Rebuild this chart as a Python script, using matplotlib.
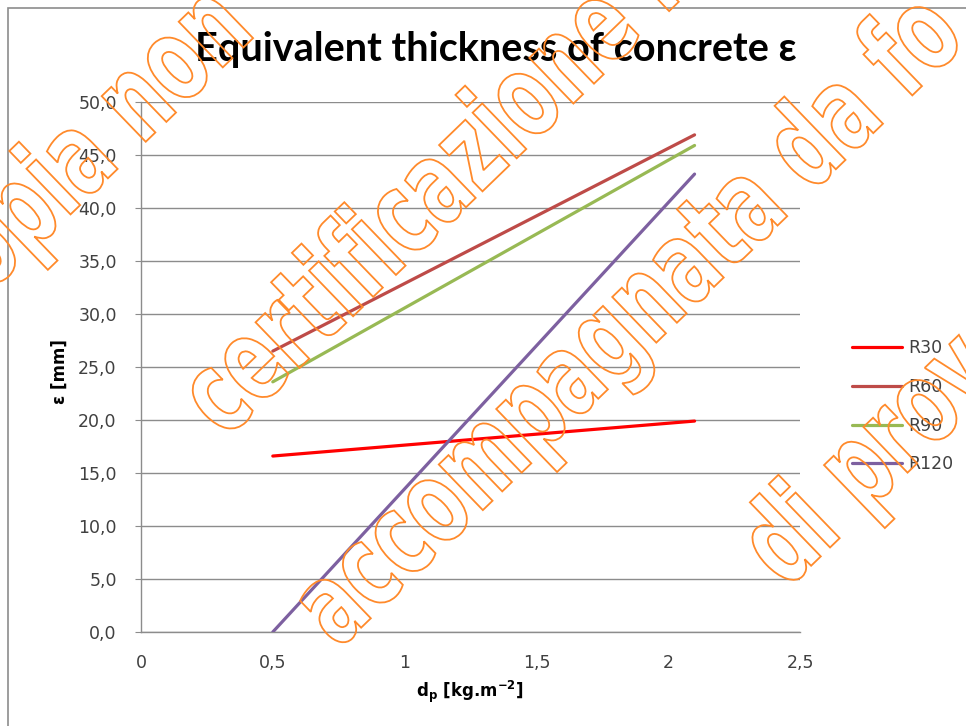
import matplotlib
matplotlib.use("Agg")
import matplotlib.pyplot as plt
from matplotlib.patches import Rectangle, PathPatch
from matplotlib.textpath import TextPath
from matplotlib.font_manager import FontProperties
import matplotlib.transforms as mtransforms
from matplotlib.ticker import FuncFormatter, MultipleLocator

# ---- data ----
dp = [0.5, 2.1]
series_names = ["R30", "R60", "R90", "R120"]
r30 = [16.6, 19.9]
r60 = [26.5, 46.9]
r90 = [23.6, 45.9]
r120 = [0.0, 43.2]
series_values = [r30, r60, r90, r120]
series_colors = ["#FF0000", "#BE4B48", "#98B954", "#7D60A0"]

title = "Equivalent thickness of concrete \u03b5"
ylabel = "\u03b5 [mm]"
xlabel = r"d$_\mathregular{p}$ [kg.m$^\mathregular{-2}$]"

W, H, DPI = 966, 726, 100
fig = plt.figure(figsize=(W / DPI, H / DPI), dpi=DPI)
fig.patch.set_facecolor("white")

ax = fig.add_axes([141 / W, 1 - 632 / H, (800 - 141) / W, (632 - 102) / H])
for name, vals, c in zip(series_names, series_values, series_colors):
    ax.plot(dp, vals, color=c, lw=2.3, label=name, solid_capstyle="round", zorder=3)

ax.set_xlim(0, 2.5)
ax.set_ylim(0, 50)
ax.xaxis.set_major_locator(MultipleLocator(0.5))
ax.yaxis.set_major_locator(MultipleLocator(5))
ax.yaxis.set_major_formatter(FuncFormatter(lambda v, p: f"{v:.1f}".replace(".", ",")))
ax.xaxis.set_major_formatter(FuncFormatter(lambda v, p: (f"{v:g}").replace(".", ",")))
ax.grid(axis="y", color="#8C8C8C", lw=1.0)
ax.set_axisbelow(True)
for s in ["top", "right"]:
    ax.spines[s].set_visible(False)
for s in ["left", "bottom"]:
    ax.spines[s].set_color("#8C8C8C")
    ax.spines[s].set_linewidth(1.0)
ax.tick_params(axis="y", length=4.5, color="#8C8C8C", labelsize=12.5, labelcolor="#404040", pad=13)
ax.tick_params(axis="x", length=0, labelsize=12.5, labelcolor="#404040", pad=16)
for lab in ax.get_xticklabels() + ax.get_yticklabels():
    lab.set_family("DejaVu Sans")

fig.text(496 / W, 1 - 50 / H, title, ha="center", va="center", fontsize=28.5,
         fontweight="bold", family="Lato", color="#000000")
fig.text(60 / W, 1 - 372 / H, ylabel, rotation=90, ha="center", va="center",
         fontsize=12, fontweight="bold", family="DejaVu Sans", color="#000000")
fig.text(470 / W, 1 - 692 / H, xlabel, ha="center", va="center",
         fontsize=12, fontweight="bold", family="DejaVu Sans", color="#000000")

leg = ax.legend(loc="upper left", bbox_to_anchor=(845 / W, 1 - 332 / H),
                bbox_transform=fig.transFigure, frameon=False, fontsize=12.5,
                handlelength=2.9, handletextpad=0.35, labelspacing=1.2,
                borderaxespad=0)
for t in leg.get_texts():
    t.set_color("#404040")
    t.set_family("DejaVu Sans")

# outer chart frame
fig.add_artist(Rectangle((8 / W, -0.1), 1.2, (1 - 8 / H) + 0.1, transform=fig.transFigure,
                         fill=False, edgecolor="#8C8C8C", lw=1.2))

# watermark (outline text)
wm_lines = ["copia non", "certificazione r", "accompagnata da fo", "di prov"]
wm_pos = [(-44, 325), (225, 440), (338, 650), (786, 590)]
fp = FontProperties(family="DejaVu Sans", weight="bold")
for s, (px, py) in zip(wm_lines, wm_pos):
    tp = TextPath((0, 0), s, size=116, prop=fp)
    tr = (mtransforms.Affine2D().scale(0.66, 1.0).rotate_deg(44)
          .translate(px, H - py))
    fig.add_artist(PathPatch(tp, transform=tr, facecolor="none", edgecolor="#FF8A2B",
                             lw=1.3, zorder=10))

fig.savefig("out.png", dpi=DPI, facecolor="white")
